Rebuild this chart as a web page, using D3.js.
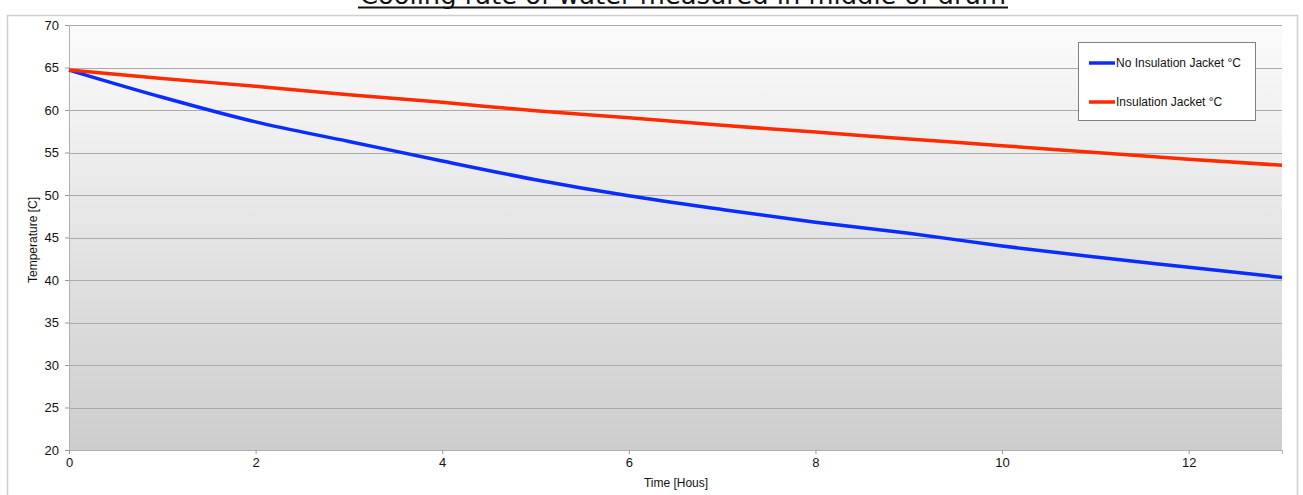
<!DOCTYPE html>
<html><head><meta charset="utf-8">
<script src="https://cdn.jsdelivr.net/npm/d3@7"></script>
<style>body{margin:0;background:#fff;}svg{display:block;}</style>
</head><body>
<svg id="c" width="1303" height="495"></svg>
<script>
const hours = [0,1,2,3,4,5,6,7,8,9,10,11,12,13];
const noJacket = [64.7,61.5,58.6,56.3,54.0,51.8,49.9,48.3,46.8,45.5,44.0,42.7,41.5,40.3];
const jacket = [64.7,63.7,62.8,61.8,60.9,59.9,59.1,58.2,57.4,56.6,55.8,55.0,54.2,53.5];
const seriesNames = ["No Insulation Jacket °C","Insulation Jacket °C"];
const xTicks = [0,2,4,6,8,10,12];
const yTicks = [20,25,30,35,40,45,50,55,60,65,70];
const titleText = "Cooling rate of water measured in middle of drum";
const xTitle = "Time [Hous]";
const yTitle = "Temperature [C]";

const svg = d3.select("#c");
const L = 69, R = 1282, T = 25, B = 450;
const x = d3.scaleLinear().domain([0,13]).range([L,R]);
const y = d3.scaleLinear().domain([20,70]).range([B,T]);

// frame
svg.append("rect").attr("x",7.5).attr("y",15.5).attr("width",1290).attr("height",500)
  .attr("fill","#fff").attr("stroke","#cfcfcf").attr("stroke-width",1.5);

const defs = svg.append("defs");
const g = defs.append("linearGradient").attr("id","bg").attr("x1",0).attr("y1",0).attr("x2",0).attr("y2",1);
g.append("stop").attr("offset","0%").attr("stop-color","#fbfbfb");
g.append("stop").attr("offset","100%").attr("stop-color","#cdcdcd");
svg.append("rect").attr("x",L).attr("y",T).attr("width",R-L).attr("height",B-T).attr("fill","url(#bg)");

// title (cut off at the top, as in the reference)
svg.append("text").attr("x",360).attr("y",4)
  .attr("font-family","DejaVu Sans, sans-serif").attr("font-size",24).attr("fill","#111")
  .attr("textLength",646).attr("lengthAdjust","spacingAndGlyphs")
  .text(titleText);
svg.append("line").attr("x1",358).attr("x2",1008).attr("y1",7.5).attr("y2",7.5)
  .attr("stroke","#111").attr("stroke-width",2);

// grid
svg.append("g").selectAll("line").data(yTicks).join("line")
  .attr("x1",L).attr("x2",R).attr("y1",d=>Math.round(y(d))+0.5).attr("y2",d=>Math.round(y(d))+0.5)
  .attr("stroke","#aaaaaa").attr("stroke-width",1.2);

// axes
const ya = svg.append("g").attr("transform",`translate(${L},0)`)
  .call(d3.axisLeft(y).tickValues(yTicks).tickSize(4).tickPadding(6).tickFormat(d3.format("d")));
ya.select(".domain").attr("stroke","#b0b0b0");
ya.selectAll(".tick line").attr("stroke","#999");
ya.selectAll("text").attr("font-family","Liberation Sans, Arial, sans-serif").attr("font-size",13).attr("fill","#111");

const xa = svg.append("g").attr("transform",`translate(0,${B})`)
  .call(d3.axisBottom(x).tickValues(xTicks).tickSize(4).tickPadding(4).tickFormat(d3.format("d")));
xa.select(".domain").attr("stroke","#b0b0b0");
xa.selectAll(".tick line").attr("stroke","#999");
xa.selectAll("text").attr("font-family","Liberation Sans, Arial, sans-serif").attr("font-size",13).attr("fill","#111");

svg.append("text").attr("x",676).attr("y",487).attr("text-anchor","middle")
  .attr("font-family","Liberation Sans, Arial, sans-serif").attr("font-size",12).attr("fill","#111").text(xTitle);
svg.append("text").attr("transform","translate(37,240) rotate(-90)").attr("text-anchor","middle")
  .attr("font-family","Liberation Sans, Arial, sans-serif").attr("font-size",12).attr("fill","#111").text(yTitle);

// lines
const line = d3.line().x((d,i)=>x(hours[i])).y(d=>y(d)).curve(d3.curveMonotoneX);
const colors = ["#0a2cff","#ff2a00"];
[noJacket, jacket].forEach((s,i)=>{
  svg.append("path").datum(s).attr("d",line).attr("fill","none")
    .attr("stroke",colors[i]).attr("stroke-width",3.5).attr("stroke-linejoin","round");
});

// legend
svg.append("rect").attr("x",1078.5).attr("y",42.5).attr("width",177).attr("height",78)
  .attr("fill","#fff").attr("stroke","#808080").attr("stroke-width",1);
seriesNames.forEach((n,i)=>{
  const yy = 63 + i*39;
  svg.append("line").attr("x1",1089).attr("x2",1115).attr("y1",yy).attr("y2",yy)
    .attr("stroke",colors[i]).attr("stroke-width",3.5);
  svg.append("text").attr("x",1116).attr("y",yy+4).attr("font-family","Liberation Sans, Arial, sans-serif")
    .attr("font-size",12).attr("fill","#111").text(n);
});
</script>
</body></html>
